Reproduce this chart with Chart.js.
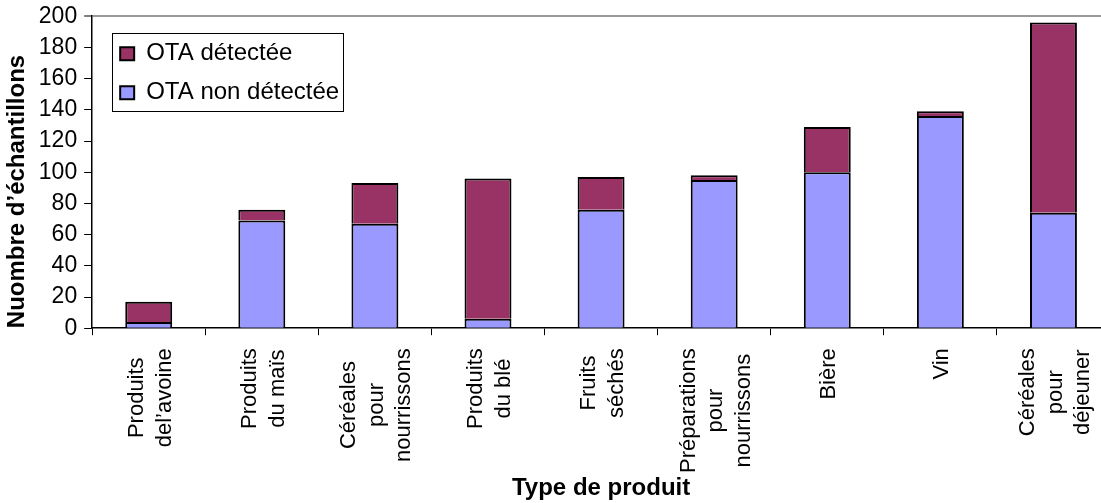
<!DOCTYPE html>
<html lang="fr">
<head>
<meta charset="utf-8">
<title>OTA par type de produit</title>
<script src="https://cdn.jsdelivr.net/npm/chart.js@4.4.1/dist/chart.umd.min.js"></script>
<style>
    html, body { margin: 0; padding: 0; overflow: hidden; background: #ffffff; }
    /* el área del gráfico sigue un poco más allá del borde derecho, como en la imagen */
    #contenedor { position: relative; width: 1112px; height: 503px; }
</style>
</head>
<body>
<div id="contenedor"><canvas id="chartOTA"></canvas></div>
<script>
// ========================================
// 📋 DATOS
// ========================================
const categorias = [
    ['Produits', 'del’avoine'],
    ['Produits', 'du maïs'],
    ['Céréales', 'pour', 'nourrissons'],
    ['Produits', 'du blé'],
    ['Fruits', 'séchés'],
    ['Préparations', 'pour', 'nourrissons'],
    ['Bière'],
    ['Vin'],
    ['Céréales', 'pour', 'déjeuner']
];
const otaNonDetectee = [4, 69, 67, 6, 76, 95, 100, 136, 74];
const otaDetectee = [13, 7, 26, 90, 21, 3, 29, 3, 122];
const ticksY = [0, 20, 40, 60, 80, 100, 120, 140, 160, 180, 200];

const tituloX = 'Type de produit';
const tituloY = 'Nuombre d’échantillons';

const FUENTE = '"Liberation Sans", Arial, sans-serif';

Chart.defaults.font.family = FUENTE;
Chart.defaults.font.size = 23;
Chart.defaults.color = '#000000';

// ========================================
// 🏷️ ETIQUETAS DEL EJE X (verticales, líneas centradas)
// ========================================
const pluginEtiquetasX = {
    id: 'etiquetasX',
    afterDraw(chart) {
        const { ctx, chartArea } = chart;
        const escalaX = chart.scales.x;
        ctx.save();
        ctx.font = '22px ' + FUENTE;
        ctx.fillStyle = '#000000';
        ctx.textAlign = 'center';
        ctx.textBaseline = 'middle';
        categorias.forEach((lineas, i) => {
            const cx = escalaX.getPixelForValue(i) + 2;
            const largo = Math.max(...lineas.map(l => ctx.measureText(l).width));
            const cy = chartArea.bottom + 20 + largo / 2;
            lineas.forEach((linea, k) => {
                const x = cx + (k - (lineas.length - 1) / 2) * 27.5;
                ctx.save();
                ctx.translate(x, cy);
                ctx.rotate(-Math.PI / 2);
                ctx.fillText(linea, 0, 0);
                ctx.restore();
            });
        });
        ctx.restore();
    }
};

// ========================================
// 🔲 LEYENDA DENTRO DEL GRÁFICO, CON MARCO
// ========================================
const pluginLeyenda = {
    id: 'leyendaMarco',
    afterLayout(chart) {
        const leyenda = chart.legend;
        leyenda.left = chart.chartArea.left + 13;
        leyenda.top = chart.chartArea.top + 10.5;
    },
    afterDraw(chart) {
        const cajas = chart.legend.legendHitBoxes;
        if (!cajas || !cajas.length) return;
        const ctx = chart.ctx;
        const izq = Math.min(...cajas.map(c => c.left)) - 8.5;
        const der = Math.max(...cajas.map(c => c.left + c.width)) + 3;
        const arriba = cajas[0].top - 9;
        const ultima = cajas[cajas.length - 1];
        const abajo = ultima.top + ultima.height + 6;
        ctx.save();
        ctx.strokeStyle = '#000000';
        ctx.lineWidth = 1;
        ctx.strokeRect(Math.round(izq) + 0.5, Math.round(arriba) + 0.5,
            Math.round(der - izq), Math.round(abajo - arriba));
        ctx.restore();
    }
};

// ========================================
// 📊 GRÁFICO DE BARRAS APILADAS
// ========================================
const ctx = document.getElementById('chartOTA');

const chartOTA = new Chart(ctx, {
    type: 'bar',
    data: {
        labels: categorias,
        datasets: [
            {
                label: 'OTA non détectée',
                data: otaNonDetectee,
                backgroundColor: '#9999FF',
                borderColor: '#000000',
                borderWidth: 2
            },
            {
                label: 'OTA détectée',
                data: otaDetectee,
                backgroundColor: '#993366',
                borderColor: '#000000',
                borderWidth: 2
            }
        ]
    },
    options: {
        responsive: true,
        maintainAspectRatio: false,
        animation: false,
        layout: {
            padding: { top: 16, left: 1, right: 2, bottom: 0 }
        },
        datasets: {
            bar: {
                barPercentage: 0.415,
                categoryPercentage: 1
            }
        },
        plugins: {
            legend: {
                position: 'chartArea',
                align: 'start',
                reverse: true,
                labels: {
                    boxWidth: 14,
                    boxHeight: 13,
                    padding: 15,
                    color: '#000000',
                    font: { size: 24 }
                }
            },
            tooltip: { enabled: false }
        },
        scales: {
            x: {
                stacked: true,
                z: 1,
                border: { color: '#000000', width: 1.5 },
                grid: {
                    display: true,
                    drawOnChartArea: false,
                    offset: true,
                    color: '#000000',
                    tickLength: 7
                },
                ticks: { display: false },
                title: {
                    display: true,
                    text: tituloX,
                    font: { size: 24, weight: 'bold' },
                    padding: { top: 139, bottom: 0 }
                }
            },
            y: {
                stacked: true,
                min: 0,
                max: 200,
                afterBuildTicks: (escala) => {
                    escala.ticks = ticksY.map(v => ({ value: v }));
                },
                border: { color: '#000000', width: 1.5 },
                grid: {
                    drawOnChartArea: true,
                    color: (c) => c.tick && c.tick.value === 200 ? '#999999' : 'rgba(0,0,0,0)',
                    lineWidth: (c) => c.tick && c.tick.value === 200 ? 2 : 1,
                    tickColor: '#000000',
                    tickWidth: 1,
                    tickLength: 8
                },
                ticks: {
                    padding: 7,
                    font: { size: 23, lineHeight: 0.8 }
                },
                title: {
                    display: true,
                    text: tituloY,
                    align: 'start',
                    font: { size: 24, weight: 'bold' },
                    padding: { top: 2, bottom: 0 }
                }
            }
        }
    },
    plugins: [pluginEtiquetasX, pluginLeyenda]
});

console.log('✅ Gráfico OTA renderizado', chartOTA.chartArea);
</script>
</body>
</html>
